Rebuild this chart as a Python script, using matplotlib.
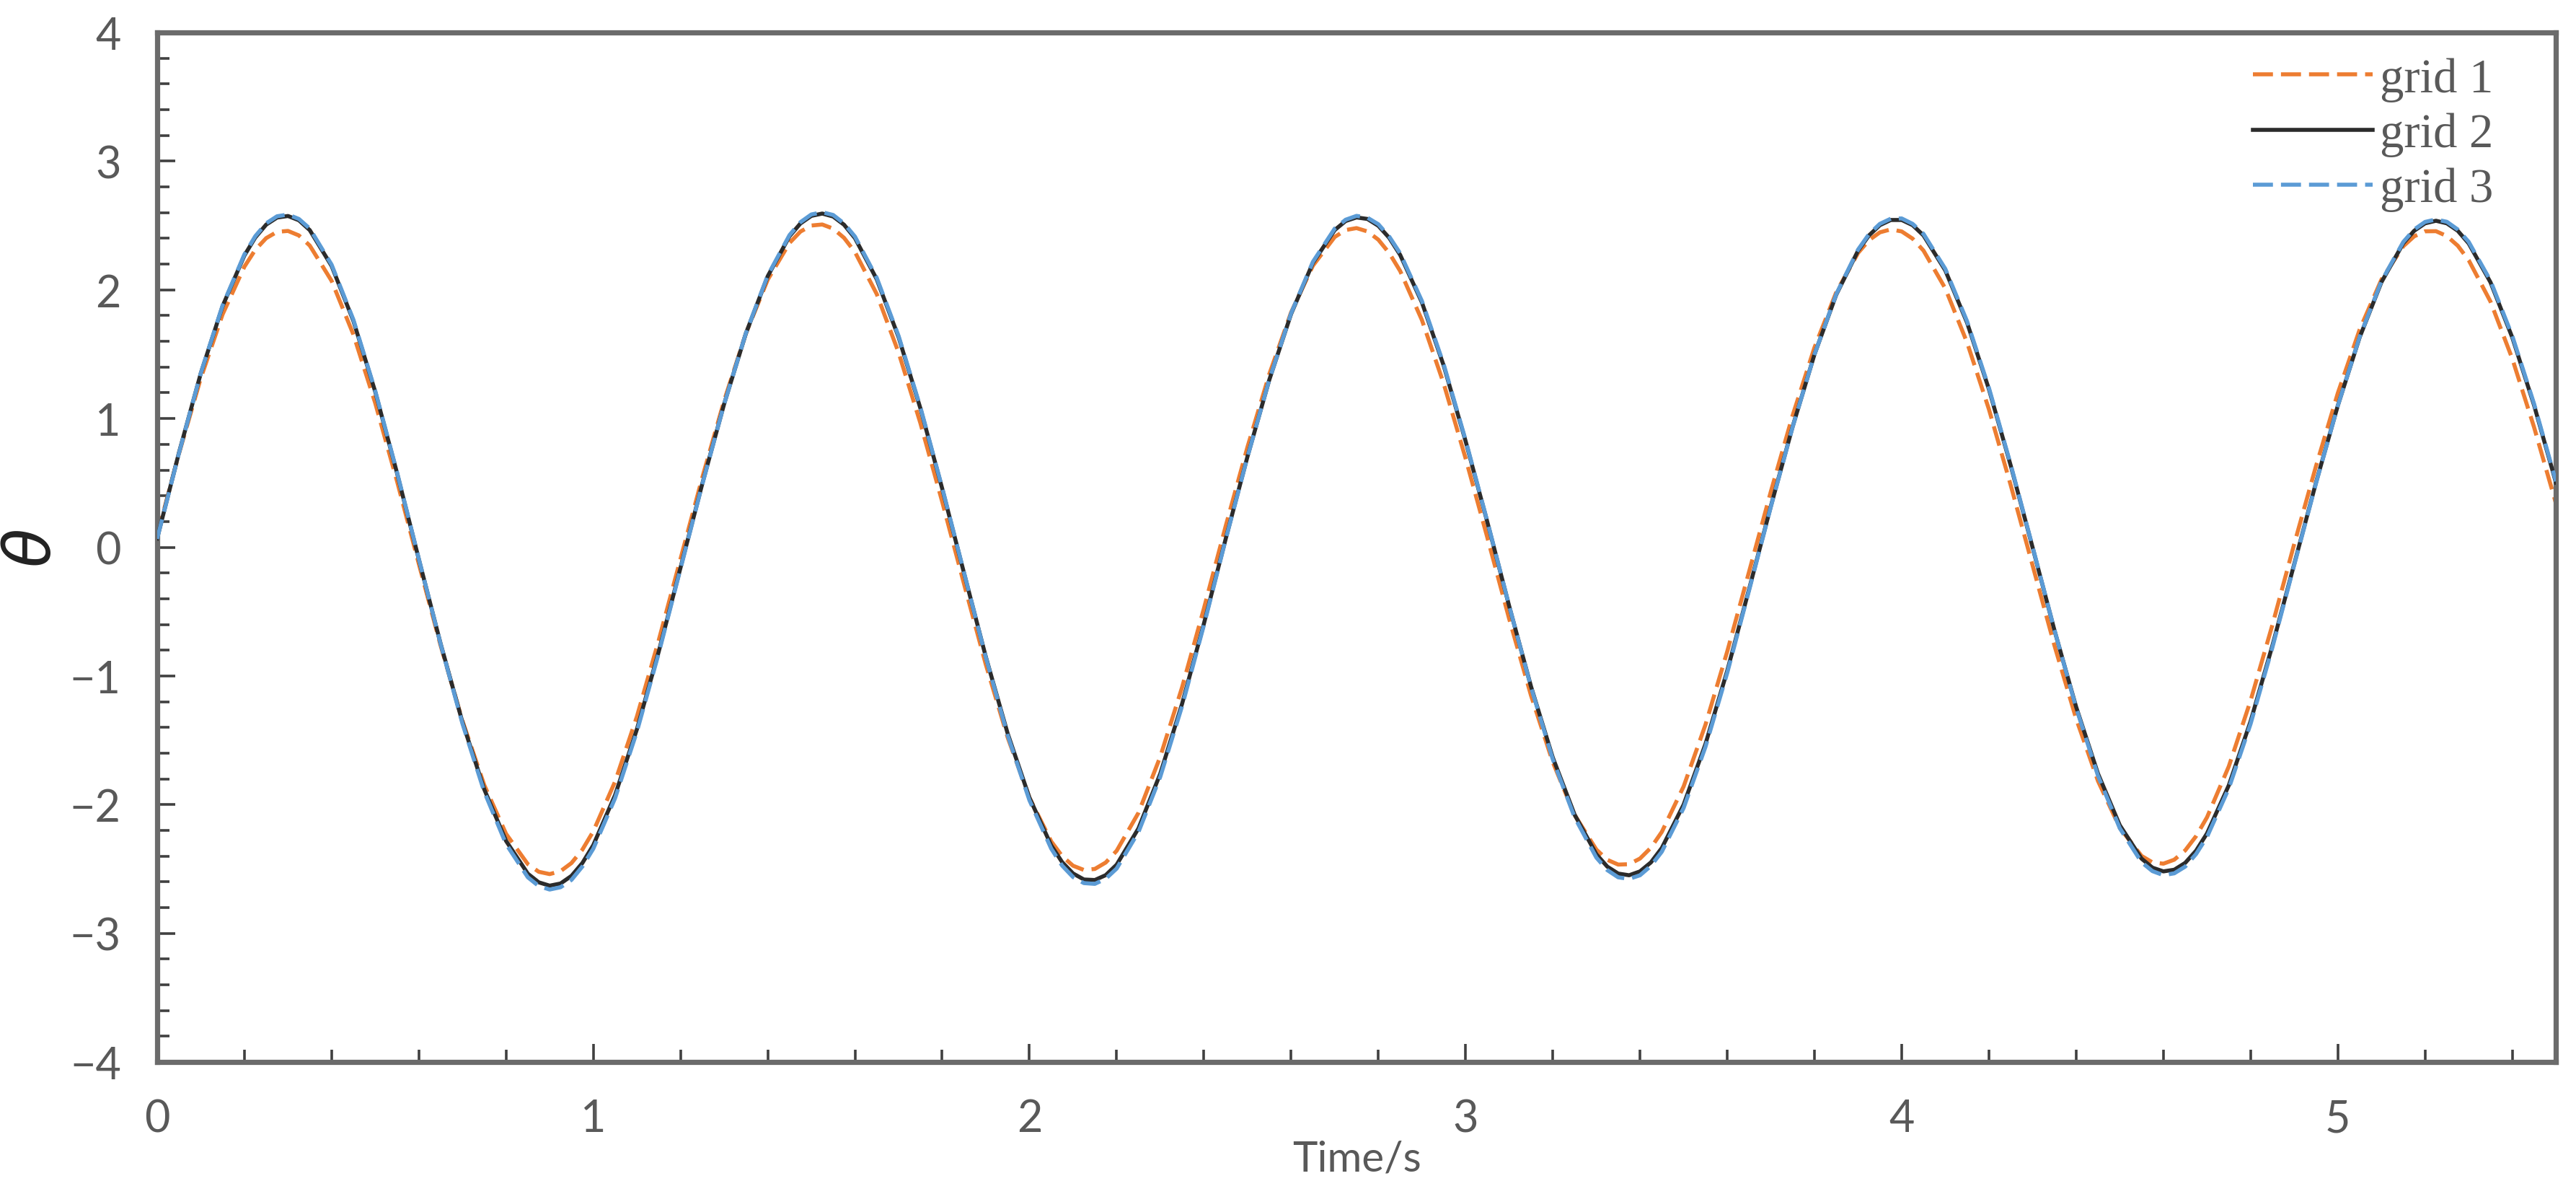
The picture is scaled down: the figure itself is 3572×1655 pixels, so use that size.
# plot_grid_convergence.py

import matplotlib
matplotlib.use("Agg")
import matplotlib.pyplot as plt
from matplotlib.ticker import MultipleLocator

# time axis (s), sampled every 0.05 s
time_s = [round(i * 0.05, 2) for i in range(111)]

# theta-bar, one value per time step
grid_1 = [
    0.091, 0.727, 1.313, 1.809, 2.180, 2.402, 2.458, 2.344, 2.070, 1.653,
    1.121, 0.514, -0.129, -0.764, -1.349, -1.848, -2.227, -2.463, -2.540, -2.454,
    -2.208, -1.821, -1.316, -0.724, -0.091, 0.542, 1.138, 1.662, 2.079, 2.365,
    2.500, 2.476, 2.294, 1.967, 1.513, 0.965, 0.354, -0.284, -0.911, -1.477,
    -1.946, -2.286, -2.475, -2.500, -2.359, -2.064, -1.628, -1.089, -0.477, 0.164,
    0.779, 1.345, 1.825, 2.188, 2.411, 2.480, 2.390, 2.147, 1.765, 1.270,
    0.692, 0.075, -0.556, -1.151, -1.670, -2.080, -2.350, -2.466, -2.419, -2.212,
    -1.859, -1.380, -0.810, -0.191, 0.433, 1.025, 1.552, 1.982, 2.287, 2.447,
    2.454, 2.305, 2.011, 1.590, 1.072, 0.482, -0.139, -0.761, -1.333, -1.816,
    -2.180, -2.399, -2.459, -2.356, -2.099, -1.703, -1.191, -0.603, 0.025, 0.631,
    1.198, 1.691, 2.080, 2.339, 2.455, 2.418, 2.231, 1.909, 1.465, 0.932,
    0.342,
]

grid_2 = [
    0.068, 0.734, 1.350, 1.873, 2.267, 2.507, 2.574, 2.464, 2.186, 1.759,
    1.209, 0.577, -0.093, -0.750, -1.359, -1.881, -2.282, -2.537, -2.630, -2.554,
    -2.315, -1.926, -1.415, -0.812, -0.160, 0.494, 1.113, 1.662, 2.106, 2.417,
    2.575, 2.570, 2.402, 2.082, 1.633, 1.080, 0.456, -0.200, -0.851, -1.446,
    -1.946, -2.317, -2.535, -2.586, -2.467, -2.185, -1.760, -1.217, -0.595, 0.065,
    0.705, 1.301, 1.813, 2.210, 2.465, 2.563, 2.498, 2.272, 1.902, 1.410,
    0.826, 0.195, -0.457, -1.081, -1.634, -2.078, -2.386, -2.536, -2.519, -2.337,
    -2.000, -1.530, -0.960, -0.327, 0.319, 0.938, 1.498, 1.963, 2.305, 2.503,
    2.543, 2.423, 2.151, 1.744, 1.228, 0.634, 0.000, -0.642, -1.241, -1.759,
    -2.160, -2.420, -2.519, -2.453, -2.224, -1.850, -1.352, -0.764, -0.130, 0.503,
    1.101, 1.631, 2.060, 2.362, 2.517, 2.517, 2.361, 2.059, 1.630, 1.103,
    0.503,
]

grid_3 = [
    0.065, 0.730, 1.352, 1.878, 2.275, 2.517, 2.585, 2.476, 2.196, 1.768,
    1.216, 0.583, -0.090, -0.752, -1.370, -1.900, -2.306, -2.565, -2.660, -2.585,
    -2.343, -1.950, -1.433, -0.824, -0.168, 0.490, 1.112, 1.664, 2.112, 2.426,
    2.586, 2.582, 2.414, 2.093, 1.642, 1.088, 0.462, -0.196, -0.855, -1.460,
    -1.966, -2.342, -2.563, -2.616, -2.497, -2.213, -1.784, -1.235, -0.606, 0.060,
    0.702, 1.302, 1.818, 2.218, 2.476, 2.575, 2.510, 2.284, 1.913, 1.420,
    0.834, 0.200, -0.455, -1.086, -1.648, -2.098, -2.412, -2.565, -2.549, -2.366,
    -2.026, -1.552, -0.976, -0.336, 0.314, 0.935, 1.498, 1.967, 2.313, 2.513,
    2.555, 2.435, 2.163, 1.755, 1.238, 0.642, 0.005, -0.640, -1.248, -1.775,
    -2.183, -2.448, -2.548, -2.482, -2.251, -1.874, -1.372, -0.778, -0.138, 0.498,
    1.100, 1.634, 2.067, 2.372, 2.528, 2.529, 2.373, 2.071, 1.642, 1.114,
    0.512,
]

# extra readings taken around each crest and trough
time_peaks = [
    0.225, 0.275, 0.325, 0.875, 0.925, 0.975, 1.475, 1.525, 1.575,
    2.075, 2.125, 2.175, 2.725, 2.775, 2.825, 3.325, 3.375, 3.425,
    3.925, 3.975, 4.025, 4.575, 4.625, 4.675, 5.175, 5.225, 5.275,
]
grid_1_peaks = [
    2.311, 2.451, 2.423, -2.522, -2.517, -2.350, 2.453, 2.508, 2.404,
    -2.400, -2.508, -2.450, 2.465, 2.454, 2.286, -2.429, -2.463, -2.335,
    2.386, 2.470, 2.398, -2.449, -2.428, -2.245, 2.416, 2.456, 2.343,
]
grid_2_peaks = [
    2.407, 2.562, 2.541, -2.604, -2.613, -2.454, 2.516, 2.593, 2.506,
    -2.447, -2.582, -2.548, 2.535, 2.551, 2.404, -2.482, -2.549, -2.449,
    2.423, 2.543, 2.503, -2.490, -2.506, -2.358, 2.459, 2.537, 2.459,
]
grid_3_peaks = [
    2.417, 2.572, 2.551, -2.633, -2.642, -2.481, 2.526, 2.603, 2.516,
    -2.474, -2.610, -2.576, 2.545, 2.561, 2.414, -2.509, -2.577, -2.476,
    2.433, 2.553, 2.513, -2.517, -2.534, -2.384, 2.469, 2.547, 2.469,
]

series_labels = ["grid 1", "grid 2", "grid 3"]

TEXT_GREY = "#595959"
SPINE_GREY = "#6b6b6b"


def merge_readings(values, peak_values):
    pairs = sorted(zip(time_s + time_peaks, values + peak_values))
    return [p[0] for p in pairs], [p[1] for p in pairs]


def plot_theta(output_path: str) -> None:
    fig = plt.figure(figsize=(17.86, 8.28), dpi=200)
    ax = fig.add_axes([0.0610, 0.1105, 0.9312, 0.8617])

    t1, y1 = merge_readings(grid_1, grid_1_peaks)
    t2, y2 = merge_readings(grid_2, grid_2_peaks)
    t3, y3 = merge_readings(grid_3, grid_3_peaks)

    l1, = ax.plot(t1, y1, color="#ED7D31", linewidth=2.0, dashes=(5, 2),
                  dash_joinstyle="round", zorder=2, label=series_labels[0])
    l2, = ax.plot(t2, y2, color="#2b2b2b", linewidth=2.0,
                  solid_joinstyle="round", zorder=3, label=series_labels[1])
    l3, = ax.plot(t3, y3, color="#5B9BD5", linewidth=2.0, dashes=(5, 2),
                  dash_joinstyle="round", zorder=4, label=series_labels[2])

    ax.set_xlim(0, 5.5)
    ax.set_ylim(-4, 4)
    ax.xaxis.set_major_locator(MultipleLocator(1))
    ax.xaxis.set_minor_locator(MultipleLocator(0.2))
    ax.yaxis.set_major_locator(MultipleLocator(1))
    ax.yaxis.set_minor_locator(MultipleLocator(0.2))

    for side in ["left", "right", "top", "bottom"]:
        ax.spines[side].set_color(SPINE_GREY)
        ax.spines[side].set_linewidth(2.6)

    ax.tick_params(which="both", direction="in", color="#404040",
                   top=False, right=False)
    ax.tick_params(which="major", length=9, width=1.3, pad=18,
                   labelsize=22, labelcolor=TEXT_GREY)
    ax.tick_params(which="minor", length=6, width=1.3)
    for lab in ax.get_xticklabels() + ax.get_yticklabels():
        lab.set_family("Lato")

    ax.set_xlabel("Time/s", fontsize=21, color=TEXT_GREY,
                  family="Lato", labelpad=0)
    ax.set_ylabel(r"$\bar{\theta}$", fontsize=32, color="#222222")
    ax.yaxis.set_label_coords(-0.0385, 0.5)

    ax.legend(
        handles=[l1, l2, l3],
        loc="upper right",
        bbox_to_anchor=(0.974, 0.976),
        frameon=False,
        borderpad=0,
        borderaxespad=0,
        handlelength=2.5,
        handletextpad=0.15,
        labelspacing=0.22,
        labelcolor=TEXT_GREY,
        prop={"family": "Liberation Serif", "size": 24},
    )

    fig.savefig(output_path, dpi=200)


def main() -> None:
    plot_theta("out.png")


if __name__ == "__main__":
    main()
